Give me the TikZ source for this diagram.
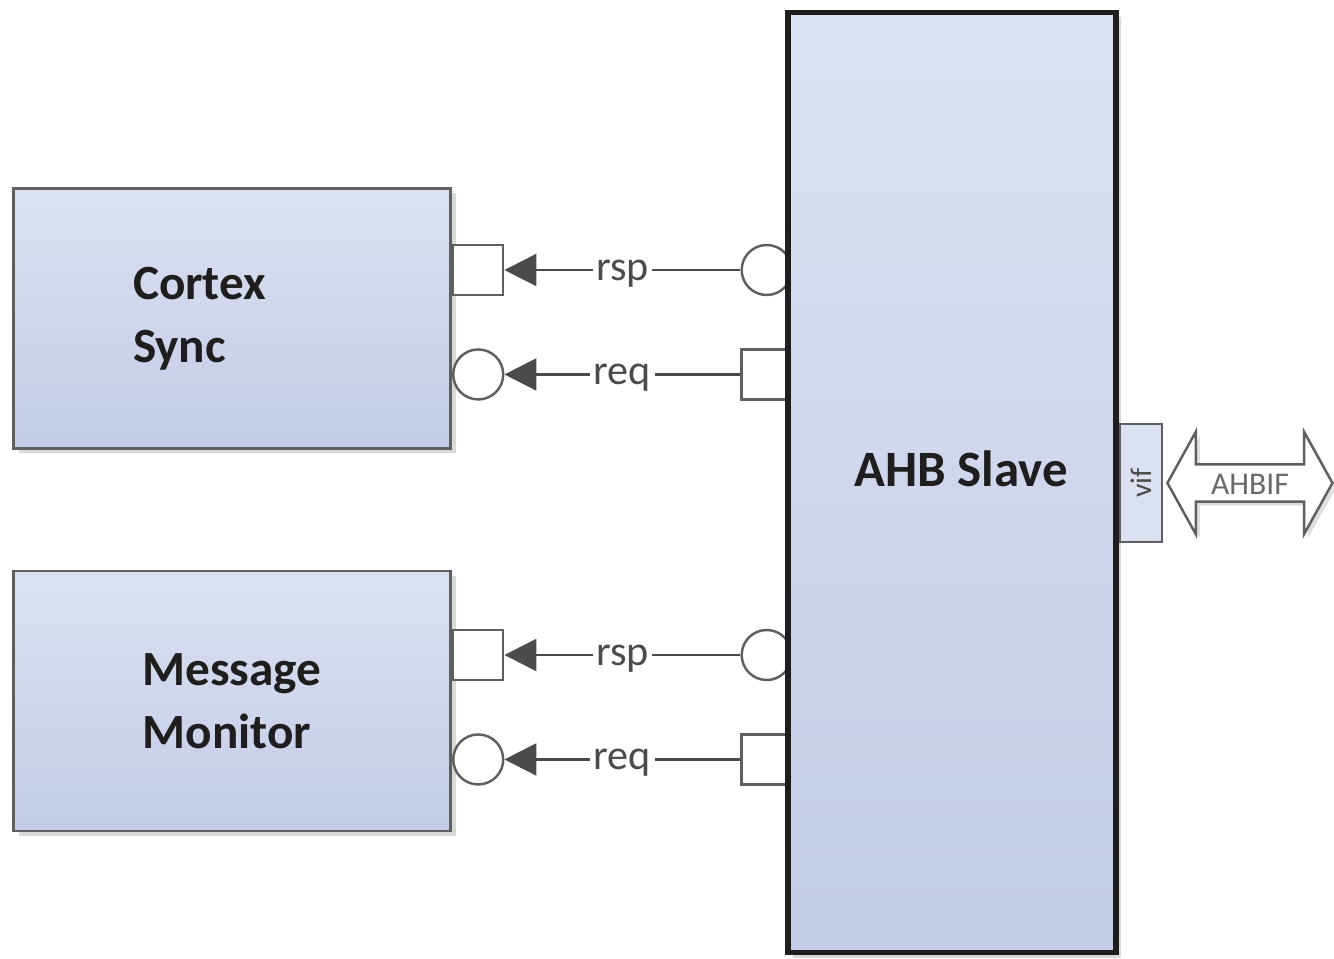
\documentclass[tikz,border=0pt]{standalone}
\usepackage{fontspec}
\setmainfont{Carlito}
\usetikzlibrary{arrows.meta,positioning,shadows,shapes.arrows}

\definecolor{blockhell}{RGB}{220,225,241}
\definecolor{blockdunkel}{RGB}{196,203,230}
\definecolor{rahmen}{RGB}{95,95,95}
\definecolor{leitung}{RGB}{75,75,75}
\definecolor{schrift}{RGB}{30,30,30}

\begin{document}
\begin{tikzpicture}[
	node distance=0.52cm,
	baustein/.style={
		draw=rahmen,
		line width=0.85pt,
		top color=blockhell,
		bottom color=blockdunkel,
		drop shadow={shadow xshift=0.5mm, shadow yshift=-0.5mm, opacity=0.3},
		font=\fontsize{14}{18}\selectfont\bfseries,
		text=schrift,
		align=left,
		minimum width=4.37cm,
		minimum height=2.60cm
	},
	anschluss/.style={
		draw=rahmen,
		line width=0.7pt,
		fill=white,
		minimum size=0.5cm,
		inner sep=0pt
	},
	eckig/.style={anschluss, rectangle},
	rund/.style={anschluss, circle},
	pile/.style={
		draw=leitung,
		line width=0.7pt,
		->,
		>={Triangle[length=3.2mm, width=3.2mm]}
	},
	signal/.style={
		fill=white,
		inner sep=1pt,
		yshift=-1pt,
		text=leitung,
		font=\fontsize{12}{14}\selectfont
	},
	schnitt/.style={
		draw=rahmen,
		line width=0.7pt,
		fill=blockhell,
		minimum width=0.42cm,
		minimum height=1.18cm,
		inner sep=0pt,
		text=leitung,
		font=\fontsize{8.5}{9}\selectfont
	},
	bus/.style={
		double arrow,
		draw=rahmen,
		line width=0.7pt,
		fill=white,
		drop shadow={shadow xshift=0.4mm, shadow yshift=-0.4mm, opacity=0.25},
		double arrow tip angle=122,
		double arrow head extend=0.325cm,
		minimum height=1.65cm,
		inner xsep=0pt,
		inner ysep=1.8pt,
		text height=6.3pt,
		text depth=0pt,
		text={rgb,255:red,105;green,105;blue,105},
		font=\fontsize{9}{9}\selectfont
	}
]
\useasboundingbox (0,0) rectangle (13.34,9.58);

\node[baustein, text width=1.98cm] (CS) at (2.32,6.395) {Cortex\\Sync};
\node[baustein] (MM) at (2.32,2.57) {Message\\Monitor};

\node[eckig, anchor=west] (CSrsp) at (CS.east |- 0,6.88) {};
\node[rund] (CSreq) [below=of CSrsp] {};
\node[rund] (CSrspS) [right=2.36cm of CSrsp] {};
\node[eckig] (CSreqS) [right=2.36cm of CSreq] {};

\node[eckig, anchor=west] (MMrsp) at (MM.east |- 0,3.03) {};
\node[rund] (MMreq) [below=of MMrsp] {};
\node[rund] (MMrspS) [right=2.36cm of MMrsp] {};
\node[eckig] (MMreqS) [right=2.36cm of MMreq] {};

\node[baustein, draw=schrift, line width=1.45pt, minimum width=3.28cm, minimum height=9.40cm,
	label={[font=\fontsize{14.5}{18}\selectfont\bfseries, text=schrift, xshift=0.09cm, yshift=0.14cm]center:AHB Slave}]
	(AHB) at (9.52,4.755) {};

\node[schnitt, anchor=west] (VIF) at (AHB.east |- 0,4.75) {\rotatebox{90}{vif}};
\node[bus] (AHBIF) [right=0.03cm of VIF] {AHBIF};

\draw[pile] (CSrspS) -- node[signal] {rsp} (CSrsp);
\draw[pile] (CSreqS) -- node[signal] {req} (CSreq);
\draw[pile] (MMrspS) -- node[signal] {rsp} (MMrsp);
\draw[pile] (MMreqS) -- node[signal] {req} (MMreq);

\end{tikzpicture}
\end{document}
